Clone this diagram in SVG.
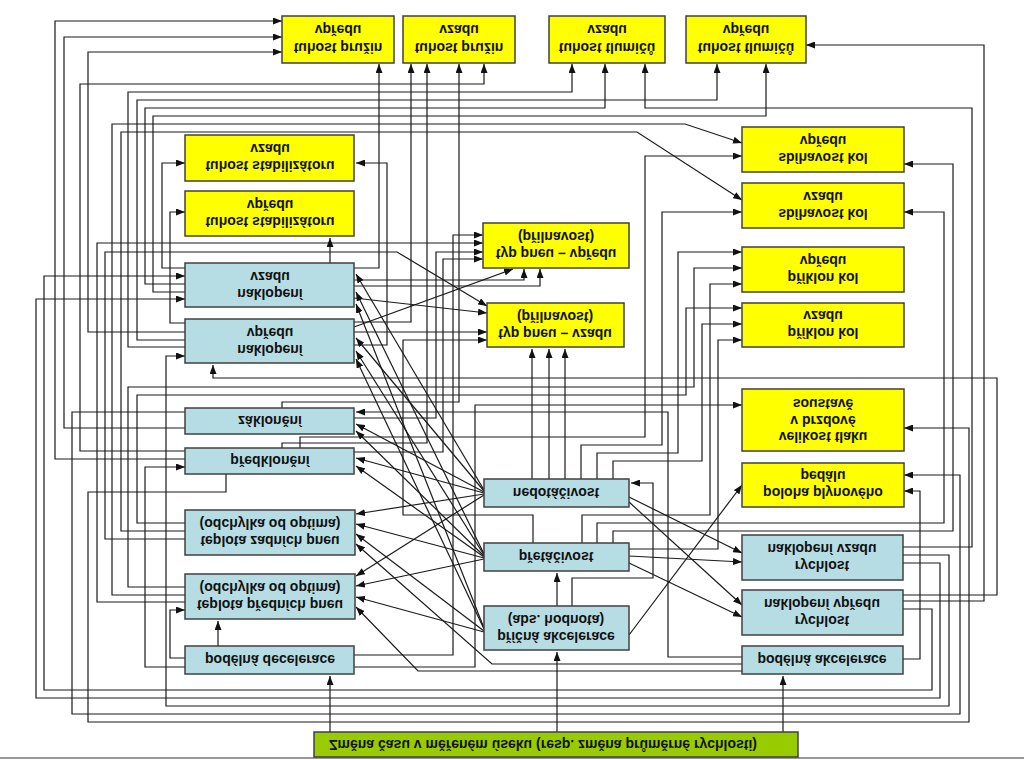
<svg xmlns="http://www.w3.org/2000/svg" width="1024" height="760" viewBox="0 0 1024 760">
<defs>
<marker id="a" markerWidth="9" markerHeight="7" refX="9" refY="3.5" orient="auto" markerUnits="userSpaceOnUse"><path d="M0,0 L9,3.5 L0,7 z" fill="#111"/></marker>
<style>
.y{fill:#ffff00;stroke:#404040;stroke-width:1.5}
.b{fill:#b7dde4;stroke:#404040;stroke-width:1.5}
.g{fill:#99cc00;stroke:#404040;stroke-width:1.5}
.t{font-family:"Liberation Sans",Arial,sans-serif;font-weight:bold;font-size:14px;fill:#111;text-anchor:middle;dominant-baseline:central}
#connectors polyline{fill:none;stroke:#1a1a1a;stroke-width:1.2;marker-end:url(#a)}
</style>
</defs>
<rect width="1024" height="760" fill="#fff"/>
<line x1="0" y1="758" x2="1024" y2="758" stroke="#999" stroke-width="2"/>
<g id="connectors">
<polyline points="185,459 55,459 55,21 282,21"/>
<polyline points="185,428 64,428 64,37 282,37"/>
<polyline points="185,332 88,332 88,52 282,52"/>
<polyline points="185,451 80,451 80,84 484,84 484,64"/>
<polyline points="185,347 128,347 128,92 572,92 572,64"/>
<polyline points="185,340 137,340 137,100 717,100 717,64"/>
<polyline points="185,284 145,284 145,108 605,108 605,64"/>
<polyline points="185,292 153,292 153,116 766,116 766,64"/>
<polyline points="185,595 112,595 112,124 685,124 742,143"/>
<polyline points="185,531 121,531 121,132 637,132 742,200"/>
<polyline points="185,268 162,268 162,163 185,163"/>
<polyline points="185,323 170,323 170,212 185,212"/>
<polyline points="185,602 97,602 97,243 483,243"/>
<polyline points="185,539 105,539 105,252 397,252 487,306"/>
<polyline points="903,609 932,609 932,690 44,690 44,276 185,276"/>
<polyline points="903,563 940,563 940,698 36,698 36,299 185,299"/>
<polyline points="903,555 949,555 949,706 166,706 166,356 185,356"/>
<polyline points="185,412 72,412 72,714 960,714 960,475 904,475"/>
<polyline points="226,474 226,492 88,492 88,722 969,722 969,428 904,428"/>
<polyline points="185,587 128,587 128,387 694,387 694,268 742,268"/>
<polyline points="185,523 137,523 137,395 686,395 686,308 742,308"/>
<polyline points="185,667 145,667 145,467 185,467"/>
<polyline points="185,658 170,658 170,610 185,610"/>
<polyline points="218,646 218,621"/>
<polyline points="903,595 997,595 997,378 213,378 213,365"/>
<polyline points="903,601 984,601 984,45 806,45"/>
<polyline points="903,547 972,547 972,108 645,108 645,64"/>
<polyline points="597,543 597,523 944,523 944,212 904,212"/>
<polyline points="613,543 613,531 953,531 953,164 904,164"/>
<polyline points="533,543 533,515 403,515 403,340 487,340"/>
<polyline points="582,543 582,515 710,515 710,284 742,284"/>
<polyline points="629,549 718,549 718,340 742,340"/>
<polyline points="532,479 532,349"/>
<polyline points="549,479 549,349"/>
<polyline points="565,479 565,349"/>
<polyline points="581,479 581,445 662,445 662,212 742,212"/>
<polyline points="597,479 597,453 678,453 678,252 742,252"/>
<polyline points="613,479 613,461 702,461 702,324 742,324"/>
<polyline points="300,448 300,437 645,437 645,156 742,156"/>
<polyline points="282,448 282,443 427,443 427,64"/>
<polyline points="282,408 282,402 459,402 459,64"/>
<polyline points="354,418 436,418 436,252 483,252"/>
<polyline points="354,452 443,452 443,259 483,259"/>
<polyline points="354,655 453,655 453,235 483,235"/>
<polyline points="354,667 475,667 475,405 742,405"/>
<polyline points="354,268 379,268 379,64"/>
<polyline points="354,322 411,322 411,64"/>
<polyline points="354,327 513,269"/>
<polyline points="354,280 524,280 524,269"/>
<polyline points="354,286 540,286 540,269"/>
<polyline points="354,298 487,313"/>
<polyline points="354,332 487,332"/>
<polyline points="354,345 387,345 387,163 356,163"/>
<polyline points="330,263 330,238"/>
<polyline points="484,490 356,274"/>
<polyline points="484,491 356,338"/>
<polyline points="484,492 356,424"/>
<polyline points="484,493 356,458"/>
<polyline points="484,494 356,514"/>
<polyline points="484,495 356,576"/>
<polyline points="484,554 356,292"/>
<polyline points="484,555 356,351"/>
<polyline points="484,556 356,431"/>
<polyline points="484,557 356,466"/>
<polyline points="484,558 356,524"/>
<polyline points="484,559 356,586"/>
<polyline points="484,628 356,304"/>
<polyline points="484,629 356,359"/>
<polyline points="484,631 356,534"/>
<polyline points="484,632 356,597"/>
<polyline points="743,664 492,664 356,544"/>
<polyline points="743,671 418,671 356,607"/>
<polyline points="743,657 668,657 668,412 356,412"/>
<polyline points="903,659 920,659 920,491 904,491"/>
<polyline points="629,497 742,553"/>
<polyline points="629,502 742,605"/>
<polyline points="629,556 742,562"/>
<polyline points="629,563 742,617"/>
<polyline points="629,635 742,485"/>
<polyline points="572,606 572,578 653,578 653,483 631,483"/>
<polyline points="557,606 557,573"/>
<polyline points="330,732 330,676"/>
<polyline points="557,732 557,652"/>
<polyline points="783,732 783,676"/>
</g>
<g id="pruziny-vpredu"><rect class="y" x="282" y="16" width="112" height="47"/><text class="t" transform="translate(338,30) scale(1,-1)">vpředu</text><text class="t" transform="translate(338,48) scale(1,-1)">tuhost pružin</text></g>
<g id="pruziny-vzadu"><rect class="y" x="403" y="16" width="112" height="47"/><text class="t" transform="translate(459,30) scale(1,-1)">vzadu</text><text class="t" transform="translate(459,48) scale(1,-1)">tuhost pružin</text></g>
<g id="tlumice-vzadu"><rect class="y" x="549" y="16" width="116" height="47"/><text class="t" transform="translate(607,30) scale(1,-1)">vzadu</text><text class="t" transform="translate(607,48) scale(1,-1)">tuhost tlumičů</text></g>
<g id="tlumice-vpredu"><rect class="y" x="686" y="16" width="120" height="47"/><text class="t" transform="translate(746,30) scale(1,-1)">vpředu</text><text class="t" transform="translate(746,48) scale(1,-1)">tuhost tlumičů</text></g>
<g id="stab-vzadu"><rect class="y" x="185" y="135" width="169" height="46"/><text class="t" transform="translate(270,149) scale(1,-1)">vzadu</text><text class="t" transform="translate(270,166) scale(1,-1)">tuhost stabilizátoru</text></g>
<g id="stab-vpredu"><rect class="y" x="185" y="191" width="169" height="45"/><text class="t" transform="translate(270,205) scale(1,-1)">vpředu</text><text class="t" transform="translate(270,222) scale(1,-1)">tuhost stabilizátoru</text></g>
<g id="typ-pneu-vpredu"><rect class="y" x="483" y="223" width="146" height="45"/><text class="t" transform="translate(556,237) scale(1,-1)">(přilnavost)</text><text class="t" transform="translate(556,254) scale(1,-1)">typ pneu – vpředu</text></g>
<g id="typ-pneu-vzadu"><rect class="y" x="487" y="303" width="137" height="44"/><text class="t" transform="translate(555,317) scale(1,-1)">(přilnavost)</text><text class="t" transform="translate(555,334) scale(1,-1)">typ pneu – vzadu</text></g>
<g id="sbihavost-vpredu"><rect class="y" x="742" y="127" width="162" height="45"/><text class="t" transform="translate(823,141) scale(1,-1)">vpředu</text><text class="t" transform="translate(823,158) scale(1,-1)">sbíhavost kol</text></g>
<g id="sbihavost-vzadu"><rect class="y" x="742" y="183" width="162" height="45"/><text class="t" transform="translate(823,197) scale(1,-1)">vzadu</text><text class="t" transform="translate(823,214) scale(1,-1)">sbíhavost kol</text></g>
<g id="priklon-vpredu"><rect class="y" x="742" y="247" width="162" height="45"/><text class="t" transform="translate(823,261) scale(1,-1)">vpředu</text><text class="t" transform="translate(823,278) scale(1,-1)">příklon kol</text></g>
<g id="priklon-vzadu"><rect class="y" x="742" y="303" width="162" height="44"/><text class="t" transform="translate(823,316) scale(1,-1)">vzadu</text><text class="t" transform="translate(823,333) scale(1,-1)">příklon kol</text></g>
<g id="tlak"><rect class="y" x="742" y="389" width="162" height="62"/><text class="t" transform="translate(823,404) scale(1,-1)">soustavě</text><text class="t" transform="translate(823,421) scale(1,-1)">v brzdové</text><text class="t" transform="translate(823,437) scale(1,-1)">velikost tlaku</text></g>
<g id="pedal"><rect class="y" x="742" y="463" width="162" height="44"/><text class="t" transform="translate(823,476) scale(1,-1)">pedálu</text><text class="t" transform="translate(823,493) scale(1,-1)">poloha plynového</text></g>
<g id="naklopeni-vzadu"><rect class="b" x="185" y="263" width="169" height="44"/><text class="t" transform="translate(270,277) scale(1,-1)">vzadu</text><text class="t" transform="translate(270,294) scale(1,-1)">naklopení</text></g>
<g id="naklopeni-vpredu"><rect class="b" x="185" y="319" width="169" height="44"/><text class="t" transform="translate(270,333) scale(1,-1)">vpředu</text><text class="t" transform="translate(270,350) scale(1,-1)">naklopení</text></g>
<g id="zakloneni"><rect class="b" x="185" y="408" width="169" height="26"/><text class="t" transform="translate(270,421) scale(1,-1)">záklonění</text></g>
<g id="predkloneni"><rect class="b" x="185" y="448" width="169" height="26"/><text class="t" transform="translate(270,461) scale(1,-1)">předklonění</text></g>
<g id="teplota-zadnich"><rect class="b" x="185" y="510" width="170" height="45"/><text class="t" transform="translate(270,524) scale(1,-1)">(odchylka od optima)</text><text class="t" transform="translate(270,541) scale(1,-1)">teplota zadních pneu</text></g>
<g id="teplota-prednich"><rect class="b" x="185" y="574" width="170" height="45"/><text class="t" transform="translate(270,588) scale(1,-1)">(odchylka od optima)</text><text class="t" transform="translate(270,605) scale(1,-1)">teplota předních pneu</text></g>
<g id="podelna-decelerace"><rect class="b" x="185" y="646" width="169" height="28"/><text class="t" transform="translate(270,660) scale(1,-1)">podélná decelerace</text></g>
<g id="nedotacivost"><rect class="b" x="484" y="479" width="145" height="28"/><text class="t" transform="translate(556,493) scale(1,-1)">nedotáčivost</text></g>
<g id="pretacivost"><rect class="b" x="484" y="543" width="145" height="28"/><text class="t" transform="translate(556,557) scale(1,-1)">přetáčivost</text></g>
<g id="pricna-akcelerace"><rect class="b" x="484" y="606" width="145" height="44"/><text class="t" transform="translate(556,620) scale(1,-1)">(abs. hodnota)</text><text class="t" transform="translate(556,637) scale(1,-1)">příčná akcelerace</text></g>
<g id="rychlost-vzadu"><rect class="b" x="742" y="535" width="161" height="45"/><text class="t" transform="translate(822,549) scale(1,-1)">naklopení vzadu</text><text class="t" transform="translate(822,566) scale(1,-1)">rychlost</text></g>
<g id="rychlost-vpredu"><rect class="b" x="742" y="590" width="161" height="45"/><text class="t" transform="translate(822,604) scale(1,-1)">naklopení vpředu</text><text class="t" transform="translate(822,621) scale(1,-1)">rychlost</text></g>
<g id="podelna-akcelerace"><rect class="b" x="742" y="646" width="161" height="28"/><text class="t" transform="translate(822,660) scale(1,-1)">podélná akcelerace</text></g>
<g id="zmena-casu"><rect class="g" x="314" y="732" width="484" height="25"/><text class="t" transform="translate(543,745) scale(1,-1)">Změna času v měřeném úseku (resp. změna průměrné rychlosti)</text></g>
</svg>
